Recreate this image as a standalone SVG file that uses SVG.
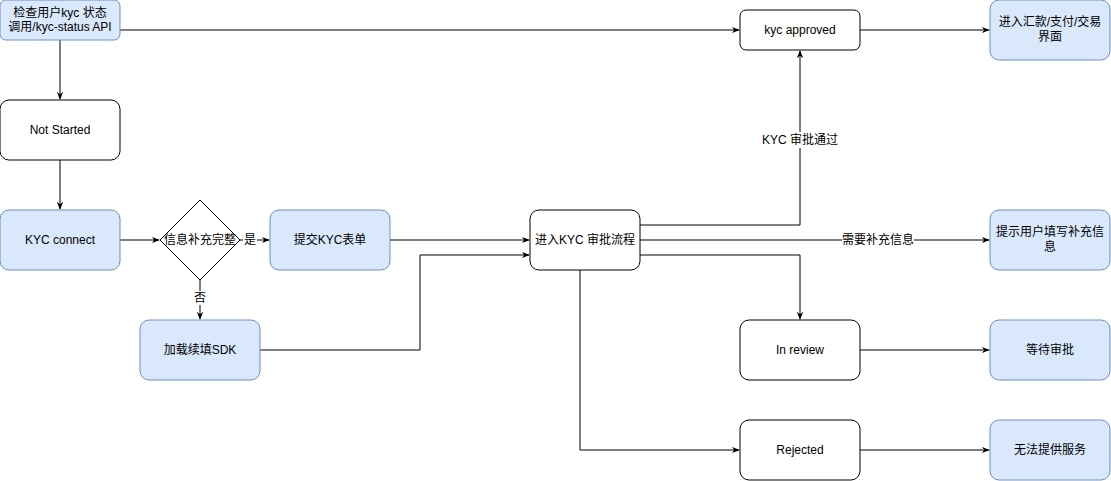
<svg xmlns="http://www.w3.org/2000/svg" width="1111" height="481" viewBox="0 0 1111 481">
<style>
.b{fill:#dae8fc;stroke:#6c8ebf;stroke-width:1}
.w{fill:#fff;stroke:#000;stroke-width:1}
text{font-family:"Liberation Sans","Noto Sans CJK SC",sans-serif;font-size:12px;text-anchor:middle;dominant-baseline:central;fill:#000}
.e{fill:none;stroke:#000;stroke-width:1;marker-end:url(#a)}
.l{fill:#fff}
</style>
<defs><marker id="a" viewBox="0 0 10 10" refX="9" refY="5" markerWidth="8" markerHeight="8" orient="auto"><path d="M0,1L10,5L0,9L3,5z" fill="#000"/></marker></defs>
<rect width="1111" height="481" fill="#fff"/>
<g id="connectors">
<path class="e" d="M120,30H739"/>
<path class="e" d="M60,40V99"/>
<path class="e" d="M60,160V209"/>
<path class="e" d="M120,240H159"/>
<path class="e" d="M240,240H269"/>
<path class="e" d="M200,280V319"/>
<path class="e" d="M390,240H529"/>
<path class="e" d="M260,350H420V255H529"/>
<path class="e" d="M640,225H800V51"/>
<path class="e" d="M640,240H989"/>
<path class="e" d="M640,255H800V319"/>
<path class="e" d="M580,270V450H739"/>
<path class="e" d="M860,30H989"/>
<path class="e" d="M860,350H989"/>
<path class="e" d="M860,450H989"/>
<rect class="l" x="243" y="233" width="14" height="14"/><text x="250" y="240">是</text>
<rect class="l" x="193" y="291" width="14" height="14"/><text x="200" y="298">否</text>
<rect class="l" x="756" y="132" width="88" height="16"/><text x="800" y="140">KYC 审批通过</text>
<rect class="l" x="842" y="232" width="72" height="16"/><text x="878" y="240">需要补充信息</text>
</g>
<g id="check"><rect class="b" x="0" y="0" width="120" height="40" rx="6"/><text x="60" y="13">检查用户kyc 状态</text><text x="60" y="27">调用/kyc-status API</text></g>
<g id="notstarted"><rect class="w" x="0" y="100" width="120" height="60" rx="9"/><text x="60" y="130">Not Started</text></g>
<g id="kycconnect"><rect class="b" x="0" y="210" width="120" height="60" rx="9"/><text x="60" y="240">KYC connect</text></g>
<g id="diamond"><path class="w" d="M200,200L240,240L200,280L160,240Z" stroke-linejoin="round"/><text x="200" y="240">信息补充完整</text></g>
<g id="submit"><rect class="b" x="270" y="210" width="120" height="60" rx="9"/><text x="330" y="240">提交KYC表单</text></g>
<g id="sdk"><rect class="b" x="140" y="320" width="120" height="60" rx="9"/><text x="200" y="350">加载续填SDK</text></g>
<g id="review"><rect class="w" x="530" y="210" width="110" height="60" rx="9"/><text x="585" y="240">进入KYC 审批流程</text></g>
<g id="approved"><rect class="w" x="740" y="10" width="120" height="40" rx="6"/><text x="800" y="30">kyc approved</text></g>
<g id="remit"><rect class="b" x="990" y="0" width="120" height="60" rx="9"/><text x="1050" y="22">进入汇款/支付/交易</text><text x="1050" y="37">界面</text></g>
<g id="prompt"><rect class="b" x="990" y="210" width="120" height="60" rx="9"/><text x="1050" y="232">提示用户填写补充信</text><text x="1050" y="247">息</text></g>
<g id="inreview"><rect class="w" x="740" y="320" width="120" height="60" rx="9"/><text x="800" y="350">In review</text></g>
<g id="wait"><rect class="b" x="990" y="320" width="120" height="60" rx="9"/><text x="1050" y="350">等待审批</text></g>
<g id="rejected"><rect class="w" x="740" y="420" width="120" height="60" rx="9"/><text x="800" y="450">Rejected</text></g>
<g id="noservice"><rect class="b" x="990" y="420" width="120" height="60" rx="9"/><text x="1050" y="450">无法提供服务</text></g>
</svg>
